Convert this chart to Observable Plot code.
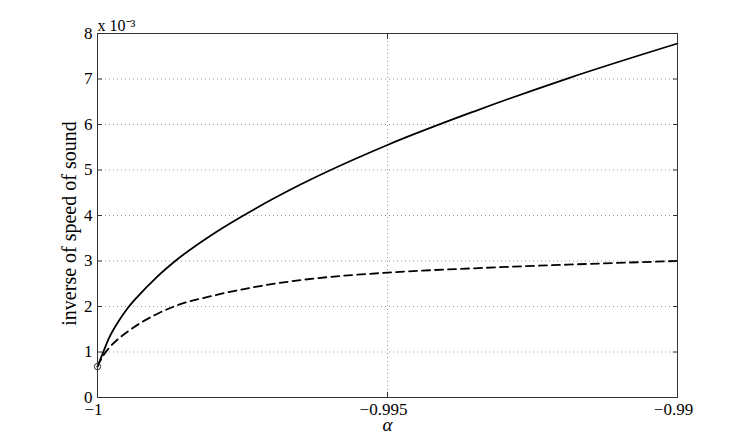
<!DOCTYPE html>
<html>
<head>
<meta charset="utf-8">
<script src="https://cdn.jsdelivr.net/npm/d3@7"></script>
<script src="https://cdn.jsdelivr.net/npm/@observablehq/plot@0.6"></script>
<style>
  html, body { margin: 0; padding: 0; background: white; }
  svg text { font-family: "Liberation Serif", "Times New Roman", serif; }
</style>
</head>
<body>
<div id="chart"></div>
<script>
// alpha values (x) and inverse speed of sound (in units of 1e-3)
const alphaSolid = [-1, -0.99995, -0.9999, -0.9998, -0.99965, -0.9995, -0.9993, -0.999, -0.99866, -0.998, -0.99728, -0.9965, -0.995, -0.9935, -0.9919, -0.99];
const solidValues = [0.68, 0.84, 1.00, 1.31, 1.65, 1.93, 2.23, 2.62, 3.00, 3.60, 4.15, 4.68, 5.55, 6.29, 7.01, 7.78];

const alphaDashed = [-1, -0.99995, -0.9999, -0.9998, -0.99965, -0.9995, -0.99923, -0.999, -0.99866, -0.998, -0.99728, -0.9965, -0.995, -0.9935, -0.9919, -0.99];
const dashedValues = [0.68, 0.81, 0.92, 1.09, 1.28, 1.43, 1.66, 1.82, 2.01, 2.24, 2.43, 2.58, 2.745, 2.84, 2.92, 3.00];

const startPoint = [{x: -1, y: 0.68}];

const xTicks = [-1, -0.995, -0.99];
const yTicks = [0, 1, 2, 3, 4, 5, 6, 7, 8];
const yGridLines = [1, 2, 3, 4, 5, 6, 7];
const xGridLines = [-0.995];

const yLabel = "inverse of speed of sound";
const xLabel = "α";
const exponentLabel = "x 10⁻³";

const serif = "'Liberation Serif', 'Times New Roman', serif";
const solid = alphaSolid.map((x, i) => ({x, y: solidValues[i]}));
const dashed = alphaDashed.map((x, i) => ({x, y: dashedValues[i]}));
const fmtX = d => (d < 0 ? "\u2212" : "") + String(Math.abs(d));

const chart = Plot.plot({
  width: 747,
  height: 447,
  marginLeft: 97,
  marginRight: 70,
  marginTop: 33,
  marginBottom: 50,
  x: {domain: [-1, -0.99]},
  y: {domain: [0, 8]},
  style: "font-family: 'Liberation Serif', 'Times New Roman', serif; font-size: 17px; background: white; color: black; overflow: visible;",
  marks: [
    Plot.gridY(yGridLines, {stroke: "#9a9a9a", strokeOpacity: 1, strokeDasharray: "1,3"}),
    Plot.gridX(xGridLines, {stroke: "#9a9a9a", strokeOpacity: 1, strokeDasharray: "1,3"}),
    Plot.line(solid, {x: "x", y: "y", curve: "monotone-x", stroke: "black", strokeWidth: 1.8}),
    Plot.line(dashed, {x: "x", y: "y", curve: "monotone-x", stroke: "black", strokeWidth: 1.8, strokeDasharray: "8,5"}),
    Plot.dot(startPoint, {x: "x", y: "y", r: 3.2, stroke: "#333", fill: "none", strokeWidth: 1}),
    Plot.frame({stroke: "#333", strokeWidth: 1}),
    Plot.axisY(yTicks, {anchor: "left", tickSize: 0, tickPadding: 5, label: null, fontSize: 17, fontFamily: serif}),
    Plot.axisY(yTicks, {anchor: "left", tickSize: -5, tickFormat: () => "", label: null, stroke: "#333"}),
    Plot.axisY(yTicks, {anchor: "right", tickSize: -5, tickFormat: () => "", label: null, stroke: "#333"}),
    Plot.axisX(xTicks, {anchor: "bottom", tickSize: 0, tickPadding: 5, tickFormat: fmtX, label: null, dx: -4, fontSize: 17, fontFamily: serif}),
    Plot.axisX(xTicks, {anchor: "bottom", tickSize: -5, tickFormat: () => "", label: null, stroke: "#333"}),
    Plot.axisX(xTicks, {anchor: "top", tickSize: -5, tickFormat: () => "", label: null, stroke: "#333"}),
    Plot.text([yLabel], {text: d => d, frameAnchor: "left", textAnchor: "middle", lineAnchor: "middle", rotate: -90, dx: -28, dy: 8, fontSize: 20, fontFamily: serif}),
    Plot.text([xLabel], {text: d => d, frameAnchor: "bottom", textAnchor: "middle", lineAnchor: "middle", dy: 27, fontSize: 19, fontStyle: "italic", fontFamily: serif}),
    Plot.text([exponentLabel], {text: d => d, frameAnchor: "top-left", textAnchor: "start", lineAnchor: "bottom", dy: -3, fontSize: 16, fontFamily: serif})
  ]
});
document.getElementById("chart").appendChild(chart);
</script>
</body>
</html>
